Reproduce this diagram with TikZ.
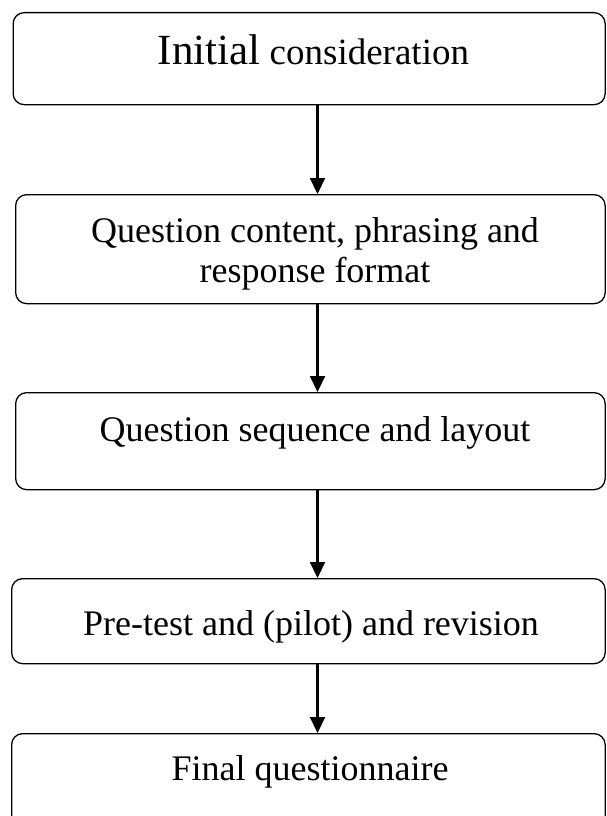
\documentclass[tikz,border=0pt]{standalone}
\usepackage{fontspec}
\setmainfont{Liberation Serif}
\usetikzlibrary{arrows.meta}
\begin{document}
\begin{tikzpicture}[x=1pt,y=1pt,
  box/.style={draw=black, line width=1.3pt, rounded corners=11pt, anchor=north west, inner sep=0pt, minimum width=592pt},
  lbl/.style={anchor=base, inner sep=0pt, font=\fontsize{36}{40}\selectfont},
  arr/.style={line width=2.2pt, -{Triangle[length=16pt,width=15pt]}}
]
\clip (0,0) rectangle (606,-816);
\fill[white] (0,0) rectangle (606,-816);
% boxes
\node[box, minimum height=92pt] (b1) at (12.5,-12) {};
\node[box, minimum height=109pt, minimum width=589.5pt] (b2) at (15,-194) {};
\node[box, minimum height=97pt, minimum width=589.5pt] (b3) at (15,-392) {};
\node[box, minimum height=85pt, minimum width=593.5pt] (b4) at (11,-578) {};
\node[box, minimum height=110pt, minimum width=593.5pt] (b5) at (11,-733) {};
% texts
\node[lbl] (t1) at (313.5,-65) {{\fontsize{43}{46}\selectfont Initial} {\fontsize{37}{40}\selectfont consideration}};
\node[lbl] (t2a) at (315,-242) {Question content, phrasing and};
\node[lbl] (t2b) at (315,-282) {response format};
\node[lbl] (t3) at (315,-441) {Question sequence and layout};
\node[lbl] (t4) at (311,-635) {Pre-test and (pilot) and revision};
\node[lbl] (t5) at (310,-780) {Final questionnaire};
% arrows
\coordinate (ax) at (317.5,0);
\draw[arr] (b1.south -| ax) -- (b2.north -| ax);
\draw[arr] (b2.south -| ax) -- (b3.north -| ax);
\draw[arr] (b3.south -| ax) -- (b4.north -| ax);
\draw[arr] (b4.south -| ax) -- (b5.north -| ax);
\end{tikzpicture}
\end{document}
